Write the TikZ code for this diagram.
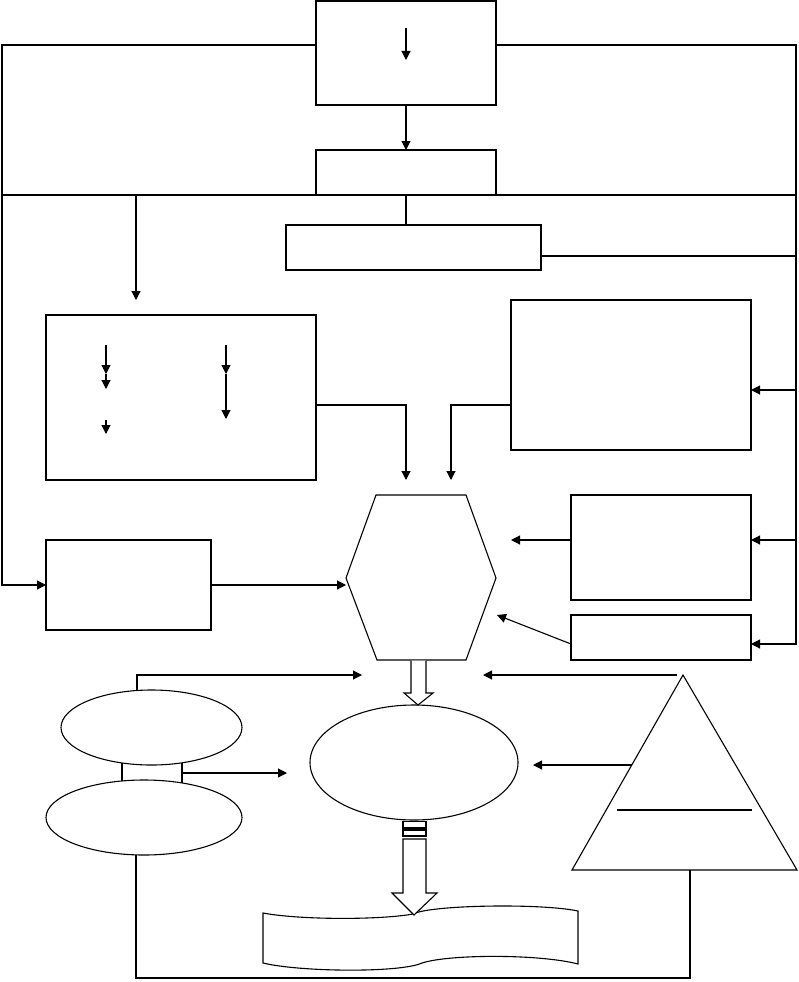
\documentclass[tikz,border=0pt]{standalone}
\usetikzlibrary{arrows.meta,shapes.geometric}
\begin{document}
\begin{tikzpicture}[x=1pt,y=-1pt,line width=1.1pt,
  box/.style={draw,rectangle,inner sep=0pt,outer sep=0pt},
  oval/.style={draw,ellipse,inner sep=0pt,outer sep=0pt},
  arr/.style={-{Triangle[length=9pt,width=9pt]}},
  hollow/.style={draw,fill=white,line join=miter}]
\useasboundingbox[fill=white] (0,0) rectangle (798,982);
% boxes
\node[box,minimum width=180pt,minimum height=104pt] (A) at (406,53) {};
\node[box,minimum width=180pt,minimum height=45pt] (B) at (406,172.5) {};
\node[box,minimum width=255pt,minimum height=45pt] (C) at (413.5,247.5) {};
\node[box,minimum width=270pt,minimum height=165pt] (D) at (181,397.5) {};
\node[box,minimum width=240pt,minimum height=150pt] (F) at (631,375) {};
\node[box,minimum width=165pt,minimum height=90pt] (E) at (128.5,585) {};
\node[box,minimum width=180pt,minimum height=105pt] (G) at (661,547.5) {};
\node[box,minimum width=180pt,minimum height=45pt] (H) at (661,637.5) {};
% hexagon
\coordinate (h1) at (376,495); \coordinate (h2) at (466,495);
\coordinate (h3) at (496,578); \coordinate (h4) at (466,660);
\coordinate (h5) at (377,660); \coordinate (h6) at (346,578);
\draw (h1) -- (h2) -- (h3) -- (h4) -- (h5) -- (h6) -- cycle;
% ellipses
\node[oval,minimum width=208pt,minimum height=115pt] (M) at (414,762.5) {};
\node[oval,minimum width=181pt,minimum height=75pt] (L1) at (151.5,727.5) {};
\node[oval,minimum width=196pt,minimum height=75pt] (L2) at (144,817.5) {};
% triangle
\coordinate (t1) at (683,675); \coordinate (t2) at (797,870); \coordinate (t3) at (572,870);
\draw (t1) -- (t2) -- (t3) -- cycle;
\coordinate (tl1) at (617,810); \coordinate (tl2) at (752,810);
\draw (tl1) -- (tl2);
% document shape
\draw (263,913) .. controls (300,920) and (380,920) .. (413,914)
  .. controls (430,905) and (540,903) .. (578,911) -- (578,964)
  .. controls (540,954) and (450,954) .. (422,963)
  .. controls (400,973) and (300,972) .. (263,963) -- cycle;

% inner arrows
\coordinate (a1) at (406,28); \coordinate (a2) at (406,60);
\draw[arr] (a1) -- (a2);
\coordinate (d1) at (106,345); \coordinate (d2) at (106,374); \coordinate (d3) at (106,389);
\draw[arr] (d1) -- (d2); \draw[arr] (d2) -- (d3);
\coordinate (d4) at (106,420); \coordinate (d5) at (106,434);
\draw[arr] (d4) -- (d5);
\coordinate (d6) at (226,345); \coordinate (d7) at (226,374); \coordinate (d8) at (226,419);
\draw[arr] (d6) -- (d7); \draw[arr] (d7) -- (d8);

% main connectors
\draw[arr] (A.south) -- (B.north);
\coordinate (aL) at (316,45); \coordinate (aR) at (496,45);
\draw[arr] (aL) -- (2,45) |- (E.west);
\draw[arr] (aR) -- (796,45) |- (H.east |- 0,644);
\draw[arr] (796,390) -- (F.east |- 0,390);
\draw[arr] (796,540) -- (G.east |- 0,540);
\coordinate (bus) at (2,195); \coordinate (busR) at (796,195);
\draw (bus) -- (busR);
\coordinate (dArr) at (136,300);
\draw[arr] (136,195) -- (dArr);
\draw (B.south) -- (B.south |- C.north);
\coordinate (cR) at (796,256);
\draw (C.east |- cR) -- (cR);
\coordinate (hx1) at (406,480); \coordinate (hx2) at (451,480);
\draw[arr] (D.east |- 0,405) -| (hx1);
\draw[arr] (F.west |- 0,405) -| (hx2);
\draw[arr] (E.east) -- (h6 |- E.east);
\coordinate (gA) at (511,540);
\draw[arr] (G.west |- gA) -- (gA);
\coordinate (hA) at (497,615);
\draw[arr] (H.west |- 0,644) -- (hA);
% hollow arrow hexagon -> M
\draw[hollow] (411,660.5) -- (411,693) -- (404,693) -- (418,705) -- (433,693) -- (426,693) -- (426,660.5);
% left ellipse connectors
\coordinate (m1) at (362,675);
\draw[arr] (137,690.5) -- (137,675) -- (m1);
\coordinate (m2) at (483,675); \coordinate (m3) at (677,675);
\draw[arr] (m3) -- (m2);
\coordinate (m4) at (632,765); \coordinate (m5) at (533,765);
\draw[arr] (m4) -- (m5);
\draw (122,763) -- (122,781);
\draw (182,763) -- (182,783);
\coordinate (m6) at (287,773);
\draw[arr] (182,773) -- (m6);
% bottom loop
\draw (L2.south -| 136,0) -- (136,978) -- (690,978) -- (690,870);
% striped hollow arrow M -> document
\draw[hollow] (403,821.5) rectangle (426,828);
\draw[hollow] (403,830) rectangle (426,836);
\draw[hollow] (403,839) -- (403,893) -- (392,893) -- (414,915) -- (437,893) -- (426,893) -- (426,839) -- cycle;
\end{tikzpicture}
\end{document}
